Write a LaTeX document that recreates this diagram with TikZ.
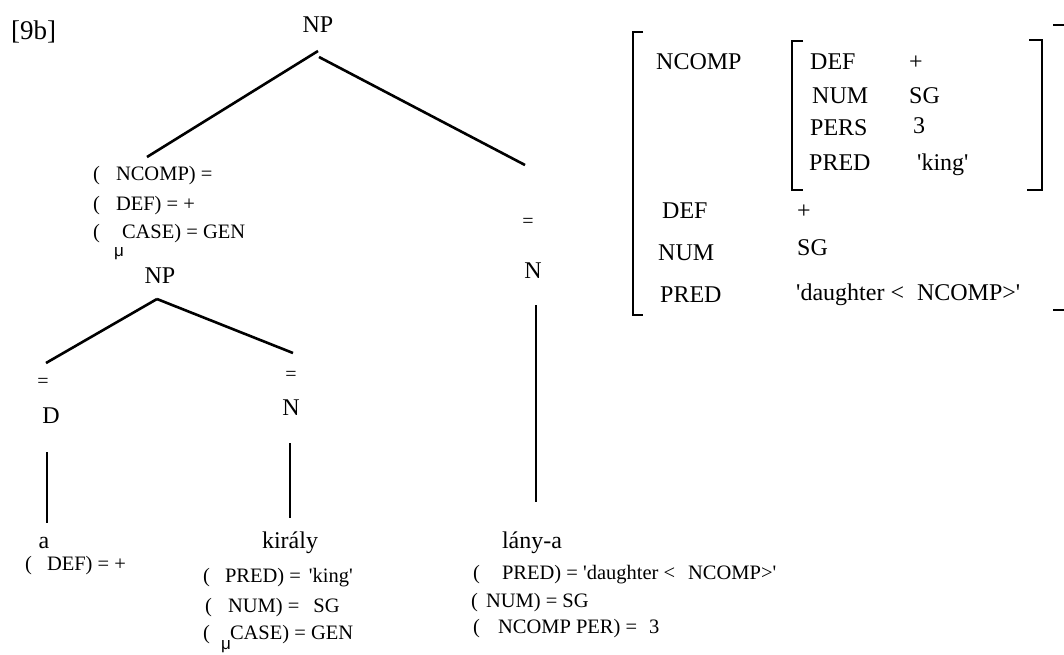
\documentclass[tikz,border=0pt]{standalone}
\usepackage{fontspec}
\setmainfont{Liberation Serif}[Ligatures=TeXOff]
\newfontfamily\mufont{Liberation Sans}
\begin{document}
\begin{tikzpicture}[x=1pt,y=-1pt,
  every node/.style={inner sep=0pt},
  big/.style={font=\fontsize{24}{24}\selectfont, anchor=base west},
  bigc/.style={font=\fontsize{24}{24}\selectfont, anchor=base},
  small/.style={font=\fontsize{20.5}{20.5}\selectfont, anchor=base west},
  eqmark/.style={font=\fontsize{20}{20}\selectfont, anchor=center},
  musub/.style={font=\mufont\fontsize{17}{17}\selectfont, anchor=base west},
  branch/.style={line width=2.6pt},
  brk/.style={line width=2.4pt}]
\useasboundingbox (0,0) rectangle (1064,654);

% example label
\node[font=\fontsize{27}{27}\selectfont, anchor=base west] (ex) at (11,39) {[9b]};

% ---------- tree ----------
\node[bigc] (np0) at (318,32) {NP};

% annotations on the left daughter
\node[small] (annA) at (93,180) {(\hspace{16pt}NCOMP) =};
\node[small] (annB) at (93,210) {(\hspace{16pt}DEF) = +};
\node[small] (annC) at (93,238) {(\hspace{22pt}CASE) = GEN};
\node[musub] (muA) at (114,256) {μ};
\node[bigc] (np1) at (160,283) {NP};

% right daughter of the top NP
\node[eqmark] (eqN2) at (528,223) {=};
\node[bigc] (n2) at (533,278) {N};

% daughters of the lower NP
\node[eqmark] (eqD) at (43,383) {=};
\node[bigc] (d) at (51,423) {D};
\node[eqmark] (eqN1) at (291,376) {=};
\node[bigc] (n1) at (291,415) {N};

% words
\node[bigc] (wa) at (44,548) {a};
\node[bigc] (wkiraly) at (290,548) {király};
\node[bigc] (wlanya) at (532,548) {lány-a};

% lexical annotations
\node[small] (la1) at (25,570) {(\hspace{15pt}DEF) = +};

\node[small] (lk1) at (203,582) {(\hspace{15pt}PRED) =\hspace{8pt}'king'};
\node[small] (lk2) at (205,612) {(\hspace{16pt}NUM) =\hspace{14pt}SG};
\node[small] (lk3) at (203,639) {(\hspace{20pt}CASE) = GEN};
\node[musub] (muK) at (221,649) {μ};

\node[small] (ll1) at (473,579) {(\hspace{22pt}PRED) = 'daughter <\hspace{13pt}NCOMP>'};
\node[small] (ll2) at (471,607) {(\hspace{8pt}NUM) = SG};
\node[small] (ll3) at (473,633) {(\hspace{18pt}NCOMP PER) =\hspace{12pt}3};

% branch end points
\coordinate (t0l) at (318,51);
\coordinate (t0r) at (319,57);
\coordinate (annTop) at (147,157);
\coordinate (n2Top) at (525,165);
\coordinate (t1) at (157,299);
\coordinate (dTop) at (46,363);
\coordinate (n1Top) at (293,353);
\coordinate (dBot) at (47,452);
\coordinate (aTop) at (47,523);
\coordinate (n1Bot) at (290,443);
\coordinate (kTop) at (290,518);
\coordinate (n2Bot) at (536,305);
\coordinate (lTop) at (536,502);

\draw[branch] (t0l) -- (annTop);
\draw[branch] (t0r) -- (n2Top);
\draw[branch] (t1) -- (dTop);
\draw[branch] (t1) -- (n1Top);
\draw[branch] (dBot) -- (aTop);
\draw[branch] (n1Bot) -- (kTop);
\draw[branch] (n2Bot) -- (lTop);

% ---------- attribute-value matrix ----------
\draw[brk] (643,32) -- (633,32) -- (633,315) -- (643,315);
\draw[brk] (1053,25) -- (1064,25);
\draw[brk] (1053,310) -- (1064,310);

\node[big] (fNcomp) at (656,69) {NCOMP};
\node[big] (fDef) at (662,218) {DEF};
\node[big] (vDef) at (797,218) {+};
\node[big] (fNum) at (658,260) {NUM};
\node[big] (vNum) at (797,255) {SG};
\node[big] (fPred) at (660,302) {PRED};
\node[big] (vPred) at (796,300) {'daughter <\hspace{13pt}NCOMP>'};

% inner f-structure
\draw[brk] (803,41) -- (792,41) -- (792,190) -- (803,190);
\draw[brk] (1029,40) -- (1042,40) -- (1042,190) -- (1027,190);

\node[big] (gDef) at (810,69) {DEF};
\node[big] (hDef) at (909,69) {+};
\node[big] (gNum) at (812,103) {NUM};
\node[big] (hNum) at (909,103) {SG};
\node[big] (gPers) at (810,135) {PERS};
\node[big] (hPers) at (913,133) {3};
\node[big] (gPred) at (809,170) {PRED};
\node[big] (hPred) at (917,170) {'king'};
\end{tikzpicture}
\end{document}
